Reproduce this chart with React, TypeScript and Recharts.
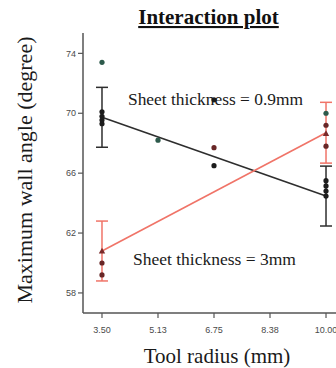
import React from "react";
import { ComposedChart, Scatter, XAxis, YAxis, ErrorBar } from "recharts";

// Tick values and labels
const xTicks = [3.5, 5.125, 6.75, 8.375, 10];
const xTickLabels = ["3.50", "5.13", "6.75", "8.38", "10.00"];
const yTicks = [58, 62, 66, 70, 74];

// Mean lines (interaction) with error bars
const meanThin = [
  { x: 3.5, y: 69.73, err: 2.0 },
  { x: 10, y: 64.47, err: 2.0 },
];
const meanThick = [
  { x: 3.5, y: 60.8, err: 2.0 },
  { x: 10, y: 68.7, err: 2.03 },
];

// Observations
const tealPoints = [
  { x: 3.5, y: 73.4 },
  { x: 5.125, y: 68.2 },
  { x: 10, y: 70.0 },
];
const blackPoints = [
  { x: 3.5, y: 70.1 },
  { x: 3.5, y: 69.8 },
  { x: 3.5, y: 69.55 },
  { x: 3.5, y: 69.3 },
  { x: 6.75, y: 70.9 },
  { x: 6.75, y: 66.5 },
  { x: 10, y: 65.5 },
  { x: 10, y: 65.15 },
  { x: 10, y: 64.8 },
  { x: 10, y: 64.47 },
];
const redPoints = [
  { x: 6.75, y: 67.7 },
  { x: 3.5, y: 60.0 },
  { x: 3.5, y: 59.2 },
  { x: 10, y: 69.2 },
  { x: 10, y: 67.8 },
];
const trianglePoints = [
  { x: 3.5, y: 60.8 },
  { x: 10, y: 68.65 },
];

const SERIF = "'Liberation Serif', 'Times New Roman', serif";
const SANS = "'Liberation Sans', Arial, sans-serif";

const dot = (color: string) => (props: any) => (
  <circle cx={props.cx} cy={props.cy} r={2.6} fill={color} />
);
const tri = (color: string) => (props: any) => {
  const { cx, cy } = props;
  const s = 3.2;
  return (
    <path
      d={`M${cx},${cy - s} L${cx + s},${cy + s * 0.8} L${cx - s},${cy + s * 0.8} Z`}
      fill={color}
    />
  );
};
const none = () => <g />;

export default function App() {
  return (
    <div
      style={{
        position: "absolute",
        left: 0,
        top: 0,
        width: 336,
        height: 368,
        overflow: "hidden",
        background: "#fff",
      }}
    >
      <ComposedChart
        width={360}
        height={368}
        margin={{ top: 33, right: 15, bottom: 0, left: 0 }}
      >
        <XAxis
          xAxisId="b"
          type="number"
          dataKey="x"
          domain={[2.949, 10.551]}
          ticks={xTicks}
          tickFormatter={(v: number) => xTickLabels[xTicks.indexOf(v)] ?? ""}
          allowDataOverflow
          height={55}
          tickSize={5}
          tickMargin={9}
          stroke="#555"
          axisLine={{ stroke: "#555", strokeWidth: 1.5 }}
          tickLine={{ stroke: "#555", strokeWidth: 1.2 }}
          tick={{ fill: "#4a4a4a", fontSize: 9, fontFamily: SANS }}
        />
        <XAxis
          xAxisId="t"
          orientation="top"
          type="number"
          domain={[2.949, 10.551]}
          allowDataOverflow
          height={0}
          tick={false}
          tickLine={false}
          axisLine={{ stroke: "#555", strokeWidth: 1.5 }}
        />
        <YAxis
          yAxisId="l"
          type="number"
          dataKey="y"
          domain={[56.66, 75.36]}
          ticks={yTicks}
          allowDataOverflow
          width={83}
          tickSize={5}
          tickMargin={2}
          axisLine={{ stroke: "#555", strokeWidth: 1.5 }}
          tickLine={{ stroke: "#555", strokeWidth: 1.2 }}
          tick={{ fill: "#4a4a4a", fontSize: 9, fontFamily: SANS }}
        />
        <YAxis
          yAxisId="r"
          orientation="right"
          type="number"
          domain={[56.66, 75.36]}
          allowDataOverflow
          width={0}
          tick={false}
          tickLine={false}
          axisLine={{ stroke: "#555", strokeWidth: 1.5 }}
        />

        <Scatter
          xAxisId="b"
          yAxisId="l"
          data={meanThin}
          line={{ stroke: "#2e2e2e", strokeWidth: 1.6 }}
          lineType="joint"
          shape={none}
          isAnimationActive={false}
        >
          <ErrorBar dataKey="err" direction="y" width={6} stroke="#2e2e2e" strokeWidth={1.5} />
        </Scatter>
        <Scatter
          xAxisId="b"
          yAxisId="l"
          data={meanThick}
          line={{ stroke: "#f07468", strokeWidth: 1.6 }}
          lineType="joint"
          shape={none}
          isAnimationActive={false}
        >
          <ErrorBar dataKey="err" direction="y" width={6} stroke="#f07468" strokeWidth={1.5} />
        </Scatter>

        <Scatter xAxisId="b" yAxisId="l" data={tealPoints} shape={dot("#2d5a4b")} isAnimationActive={false} />
        <Scatter xAxisId="b" yAxisId="l" data={blackPoints} shape={dot("#1c1c1c")} isAnimationActive={false} />
        <Scatter xAxisId="b" yAxisId="l" data={redPoints} shape={dot("#682626")} isAnimationActive={false} />
        <Scatter xAxisId="b" yAxisId="l" data={trianglePoints} shape={tri("#7a2a2a")} isAnimationActive={false} />
      </ComposedChart>

      <svg
        width={336}
        height={368}
        style={{ position: "absolute", left: 0, top: 0, pointerEvents: "none" }}
      >
        <text
          x={208.5}
          y={24}
          textAnchor="middle"
          fontFamily={SERIF}
          fontWeight="bold"
          fontSize={21}
          fill="#111"
          textDecoration="underline"
        >
          Interaction plot
        </text>
        <text x={128} y={104.5} fontFamily={SERIF} fontSize={17.4} fill="#1a1a1a">
          Sheet thickness = 0.9mm
        </text>
        <text x={133} y={265} fontFamily={SERIF} fontSize={17.5} fill="#1a1a1a">
          Sheet thickness = 3mm
        </text>
        <text
          x={217}
          y={363}
          textAnchor="middle"
          fontFamily={SERIF}
          fontSize={21}
          fill="#1a1a1a"
        >
          Tool radius (mm)
        </text>
        <text
          transform="translate(31.5,170) rotate(-90)"
          textAnchor="middle"
          fontFamily={SERIF}
          fontSize={22}
          fill="#1a1a1a"
        >
          Maximum wall angle (degree)
        </text>
      </svg>
    </div>
  );
}
